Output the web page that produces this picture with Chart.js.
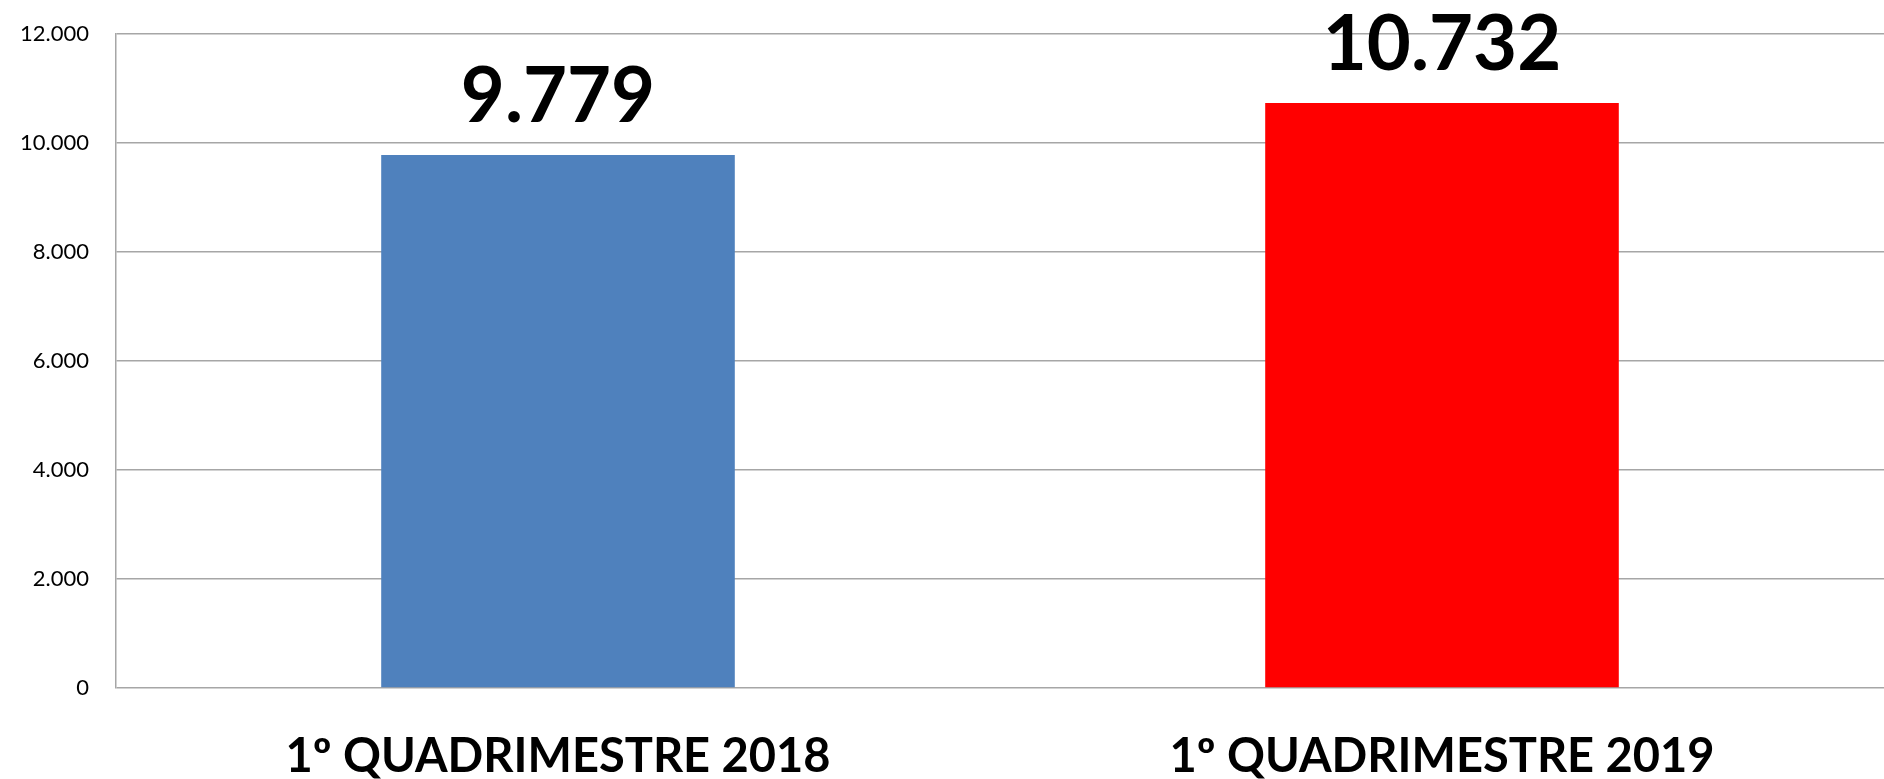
<!DOCTYPE html>
<html>
<head>
<meta charset="utf-8">
<script src="https://cdn.jsdelivr.net/npm/chart.js@4/dist/chart.umd.min.js"></script>
<style>
  html, body { margin: 0; padding: 0; background: #fff; }
  #wrap { width: 1884px; height: 779px; position: relative; }
</style>
</head>
<body>
<div id="wrap"><canvas id="chart"></canvas></div>
<script>
// ── data ─────────────────────────────────────────────
const categories = ['1º QUADRIMESTRE 2018', '1º QUADRIMESTRE 2019'];
const values     = [9779, 10732];
const barColors  = ['#4F81BD', '#FF0000'];
const yTicks     = [0, 2000, 4000, 6000, 8000, 10000, 12000];

const FONT = "Lato, 'Open Sans', sans-serif";

// thousands with a dot, e.g. 12000 -> 12.000
function fmt(v) {
  return String(Math.round(v)).replace(/\B(?=(\d{3})+(?!\d))/g, '.');
}

// draws the big value over each bar
const valueLabels = {
  id: 'valueLabels',
  afterDatasetsDraw(chart) {
    const ctx = chart.ctx;
    const meta = chart.getDatasetMeta(0);
    ctx.save();
    ctx.font = `bold 76px ${FONT}`;
    ctx.fillStyle = '#000';
    ctx.textAlign = 'center';
    ctx.textBaseline = 'alphabetic';
    meta.data.forEach((bar, i) => {
      ctx.fillText(fmt(values[i]), bar.x, bar.y - 33);
    });
    ctx.restore();
  }
};

new Chart(document.getElementById('chart'), {
  type: 'bar',
  data: {
    labels: categories,
    datasets: [{
      data: values,
      backgroundColor: barColors,
      borderWidth: 0,
      categoryPercentage: 1,
      barPercentage: 0.4,
    }],
  },
  options: {
    responsive: true,
    maintainAspectRatio: false,
    animation: false,
    // plot runs a little past the right edge, as in the original
    layout: { padding: { top: 34, right: -8, left: 0, bottom: 0 } },
    plugins: {
      legend: { display: false },
      tooltip: { enabled: false },
    },
    scales: {
      x: {
        grid: { display: false, drawTicks: false },
        border: { display: false },
        ticks: {
          color: '#000',
          padding: 41,
          maxRotation: 0,
          font: { family: FONT, size: 47, weight: 'bold' },
        },
        afterFit(scale) {
          scale.height = 91;
          scale.paddingLeft = 0;
          scale.paddingRight = 0;
        },
      },
      y: {
        min: 0,
        max: 12000,
        afterBuildTicks(scale) { scale.ticks = yTicks.map(v => ({ value: v })); },
        grid: { color: '#a6a6a6', lineWidth: 1.5, drawTicks: false },
        border: { display: true, color: '#a6a6a6', width: 1.5 },
        ticks: {
          color: '#000',
          padding: 27,
          font: { family: FONT, size: 22 },
          callback: v => fmt(v),
        },
        afterFit(scale) {
          scale.width = 116;
          // keep tick padding from pushing the plot area down
          scale.paddingTop = 0;
          scale.paddingBottom = 0;
        },
      },
    },
  },
  plugins: [valueLabels],
});
</script>
</body>
</html>
